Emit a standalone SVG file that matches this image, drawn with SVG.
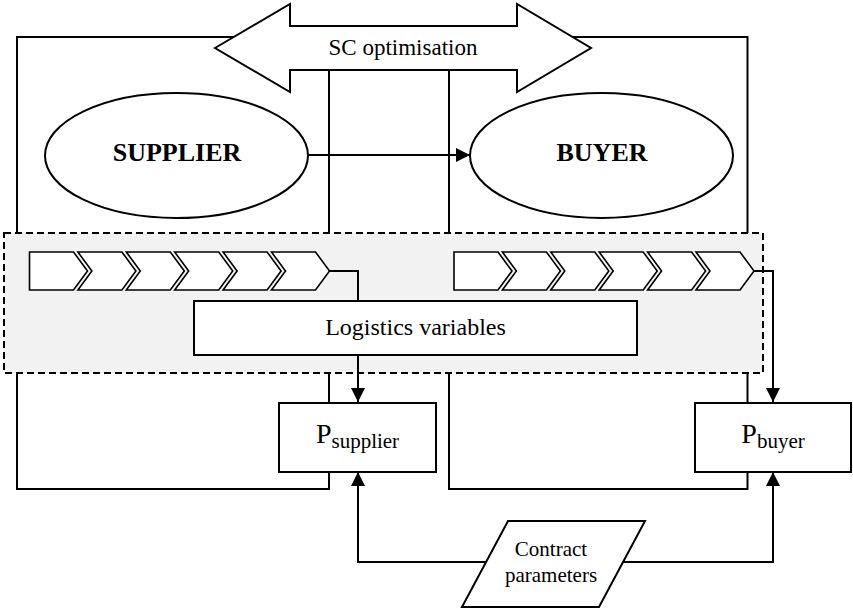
<svg xmlns="http://www.w3.org/2000/svg" width="853" height="608" viewBox="0 0 853 608">
<style>
.ln{fill:none;stroke:#000;stroke-width:2}
.box{fill:#fff;stroke:#000;stroke-width:2}
.chev{fill:#fff;stroke:#000;stroke-width:1.6;stroke-linejoin:miter}
.t{font-family:"Liberation Serif","Times New Roman",serif;fill:#000}
.b{font-weight:bold}
</style>
<defs>
<marker id="ah" markerUnits="userSpaceOnUse" viewBox="0 0 14 14" markerWidth="14" markerHeight="14" refX="14" refY="7" orient="auto">
<path d="M0,0 L14,7 L0,14 z" fill="#000"/>
</marker>
</defs>
<rect width="853" height="608" fill="#fff"/>
<g id="frames">
<rect class="ln" x="17" y="37" width="312" height="452"/>
<rect class="ln" x="449" y="37" width="298.5" height="452"/>
</g>
<g id="sc-optimisation">
<polygon class="box" points="215,48 290,4 290,26 517,26 517,4 591,48 517,92 517,70 290,70 290,92"/>
<text class="t" x="403" y="55" font-size="23" text-anchor="middle">SC optimisation</text>
</g>
<g id="logistics-region">
<rect x="4" y="233" width="759" height="140" fill="#f2f2f2" stroke="#000" stroke-width="2" stroke-dasharray="7,4"/>
</g>
<g id="supplier-chain">
<polygon class="chev" points="29.5,252 73.5,252 87.5,271 73.5,290 29.5,290"/>
<polygon class="chev" points="77.9,252 121.9,252 135.9,271 121.9,290 77.9,290 91.9,271"/>
<polygon class="chev" points="126.3,252 170.3,252 184.3,271 170.3,290 126.3,290 140.3,271"/>
<polygon class="chev" points="174.7,252 218.7,252 232.7,271 218.7,290 174.7,290 188.7,271"/>
<polygon class="chev" points="223.1,252 267.1,252 281.1,271 267.1,290 223.1,290 237.1,271"/>
<polygon class="chev" points="271.5,252 315.5,252 329.5,271 315.5,290 271.5,290 285.5,271"/>
</g>
<g id="buyer-chain">
<polygon class="chev" points="454,252 498,252 512,271 498,290 454,290"/>
<polygon class="chev" points="502.4,252 546.4,252 560.4,271 546.4,290 502.4,290 516.4,271"/>
<polygon class="chev" points="550.8,252 594.8,252 608.8,271 594.8,290 550.8,290 564.8,271"/>
<polygon class="chev" points="599.2,252 643.2,252 657.2,271 643.2,290 599.2,290 613.2,271"/>
<polygon class="chev" points="647.6,252 691.6,252 705.6,271 691.6,290 647.6,290 661.6,271"/>
<polygon class="chev" points="696,252 740,252 754,271 740,290 696,290 710,271"/>
</g>
<g id="connectors">
<line class="ln" x1="308" y1="155" x2="470" y2="155" marker-end="url(#ah)"/>
<polyline class="ln" points="329.5,271 358,271 358,402" marker-end="url(#ah)"/>
<polyline class="ln" points="754,271 773,271 773,402" marker-end="url(#ah)"/>
<polyline class="ln" points="486,562 358,562 358,472" marker-end="url(#ah)"/>
<polyline class="ln" points="623,562 773,562 773,472" marker-end="url(#ah)"/>
</g>
<g id="supplier">
<ellipse class="box" cx="176.5" cy="155.5" rx="131.5" ry="62.5"/>
<text class="t b" x="177" y="161" font-size="26" text-anchor="middle">SUPPLIER</text>
</g>
<g id="buyer">
<ellipse class="box" cx="601.5" cy="155.5" rx="131.5" ry="62.5"/>
<text class="t b" x="602" y="161" font-size="26" text-anchor="middle">BUYER</text>
</g>
<g id="logistics-variables">
<rect class="box" x="194" y="301" width="443" height="54"/>
<text class="t" x="415.5" y="335" font-size="24" text-anchor="middle">Logistics variables</text>
</g>
<g id="p-supplier">
<rect class="box" x="279" y="403" width="157" height="69"/>
<text class="t" x="357.5" y="443" text-anchor="middle"><tspan font-size="28">P</tspan><tspan font-size="21" dy="5">supplier</tspan></text>
</g>
<g id="p-buyer">
<rect class="box" x="695" y="403" width="156" height="69"/>
<text class="t" x="773" y="443" text-anchor="middle"><tspan font-size="28">P</tspan><tspan font-size="21" dy="5">buyer</tspan></text>
</g>
<g id="contract-parameters">
<polygon class="box" points="508,521 645,521 599,607 462,607"/>
<text class="t" x="551" y="556" font-size="21" text-anchor="middle">Contract</text>
<text class="t" x="551" y="582" font-size="21" text-anchor="middle">parameters</text>
</g>
</svg>
